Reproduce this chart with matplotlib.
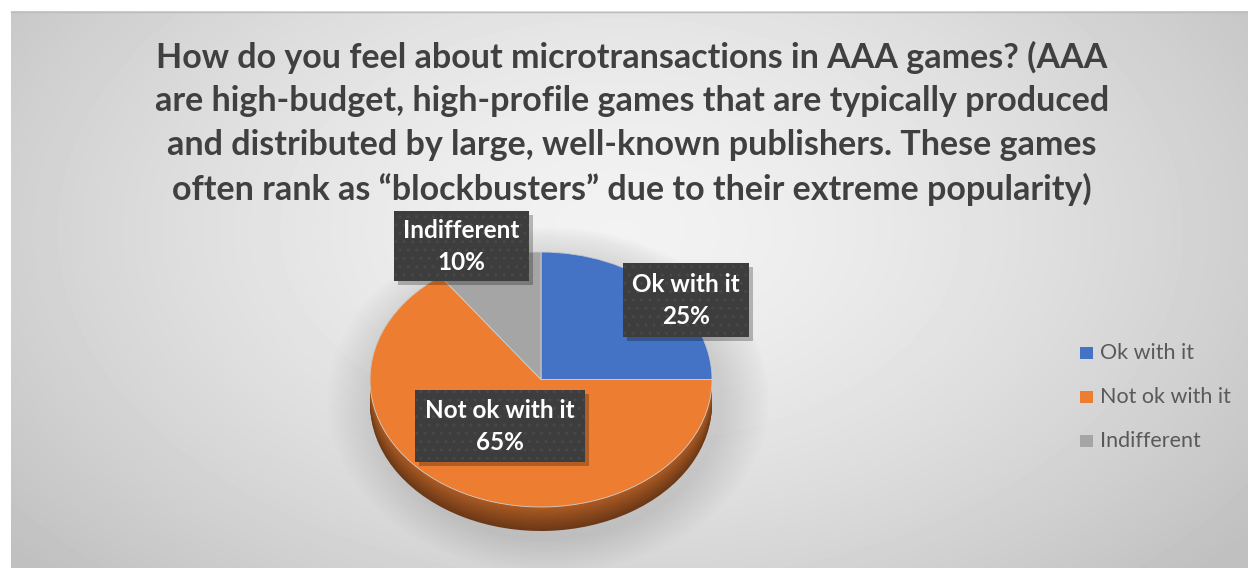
import numpy as np
import matplotlib
matplotlib.use("Agg")
import matplotlib.pyplot as plt
from matplotlib.patches import Rectangle, Ellipse
from matplotlib.colors import to_rgb

ANCHO, ALTO = 1248, 568

TITULO = [
    "How do you feel about microtransactions in AAA games? (AAA",
    "are high-budget, high-profile games that are typically produced",
    "and distributed by large, well-known publishers. These games",
    "often rank as \u201cblockbusters\u201d due to their extreme popularity)",
]
categorias = ["Ok with it", "Not ok with it", "Indifferent"]
porcentajes = [25, 65, 10]
colores = ["#4472C4", "#ED7D31", "#A5A5A5"]

# posiciones de las etiquetas (centro de la caja, en pixeles)
pos_etiquetas = [(686, 300), (500, 426), (461, 246)]
tam_cajas = [(126, 74), (170, 72), (135, 70)]


def oscurecer(c, f):
    r, g, b = to_rgb(c)
    return (r * f, g * f, b * f)


fig = plt.figure(figsize=(ANCHO / 100, ALTO / 100), dpi=100)
fig.patch.set_facecolor("white")

# fondo con degradado radial
ax_fondo = fig.add_axes([0, 0, 1, 1], zorder=0)
ax_fondo.set_xlim(0, ANCHO)
ax_fondo.set_ylim(ALTO, 0)
ax_fondo.axis("off")
yy, xx = np.mgrid[11:ALTO, 11:ANCHO]
dx = (xx - 620) / 640.0
dy = (yy - 230) / 400.0
t = np.sqrt(dx ** 2 + dy ** 2) / 1.25
gris = 0.95 - 0.20 * np.clip(t, 0, 1) ** 1.5
ax_fondo.imshow(gris, cmap="gray", vmin=0, vmax=1, extent=[11, ANCHO, ALTO, 11],
                aspect="auto", interpolation="bilinear")
ax_fondo.plot([11, ANCHO], [11.5, 11.5], color="#bdbdbd", lw=1)

# sombra suave del pastel
for i in range(14):
    ax_fondo.add_patch(Ellipse((548, 400), 350 + i * 7, 280 + i * 5,
                               facecolor="#808080", alpha=0.02, lw=0))

# pastel 3D: capas laterales y cara superior
x0, x1, y0, y1 = 370, 712, 252, 531
radio_y = 127.5
prof = (y1 - y0 - 2 * radio_y) / radio_y
ax_pie = fig.add_axes([x0 / ANCHO, 1 - y1 / ALTO, (x1 - x0) / ANCHO, (y1 - y0) / ALTO],
                      zorder=1)
ax_pie.patch.set_visible(False)
n_capas = 24
for k in range(n_capas):
    off = prof * (1 - k / (n_capas - 1))
    f = 0.45 + 0.28 * (k / (n_capas - 1))
    ax_pie.pie(porcentajes, colors=[oscurecer(c, f) for c in colores],
               startangle=90, counterclock=False, center=(0, -off), radius=1,
               wedgeprops=dict(linewidth=0))
ax_pie.pie(porcentajes, colors=colores, startangle=90, counterclock=False,
           center=(0, 0), radius=1, wedgeprops=dict(linewidth=0.6, edgecolor="#d0d0d0"))
ax_pie.set_aspect("auto")
ax_pie.set_xlim(-1, 1)
ax_pie.set_ylim(-1 - prof, 1)
ax_pie.axis("off")

# capa superior: titulo, etiquetas y leyenda
ax = fig.add_axes([0, 0, 1, 1], zorder=2)
ax.patch.set_visible(False)
ax.set_xlim(0, ANCHO)
ax.set_ylim(ALTO, 0)
ax.axis("off")

for i, linea in enumerate(TITULO):
    ax.text(632, 57 + i * 44, linea, ha="center", va="center", fontsize=24.5,
            fontweight="bold", color="#404040", family="Lato")

for cat, pct, (cx, cy), (w, h) in zip(categorias, porcentajes, pos_etiquetas, tam_cajas):
    ax.add_patch(Rectangle((cx - w / 2 + 4, cy - h / 2 + 4), w, h,
                           facecolor="black", alpha=0.25, lw=0))
    ax.add_patch(Rectangle((cx - w / 2, cy - h / 2), w, h, facecolor="#3d3d3d",
                           edgecolor="#484848", hatch="..", lw=0))
    ax.text(cx, cy - 16, cat, ha="center", va="center", fontsize=17.5,
            fontweight="bold", color="white", family="Lato")
    ax.text(cx, cy + 17, f"{pct}%", ha="center", va="center", fontsize=17.5,
            fontweight="bold", color="white", family="Lato")

for i, (cat, col) in enumerate(zip(categorias, colores)):
    y = 353 + i * 44
    ax.add_patch(Rectangle((1080, y - 6), 13, 12, facecolor=col, lw=0))
    ax.text(1100, y, cat, ha="left", va="center", fontsize=15.5, color="#595959",
            family="Lato")

fig.savefig("out.png", dpi=100)
